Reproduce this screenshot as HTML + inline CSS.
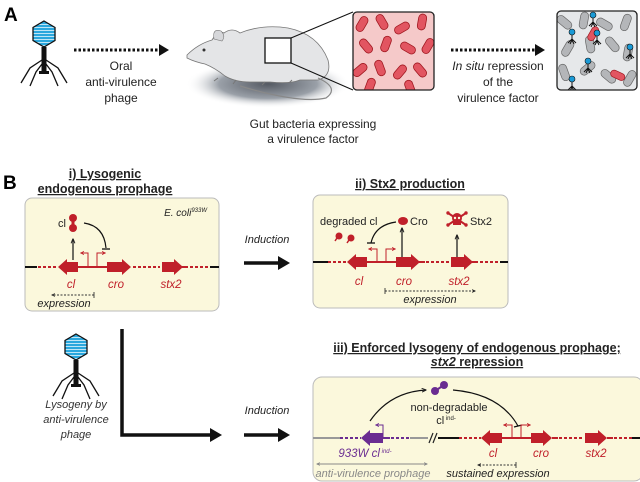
<!DOCTYPE html>
<html><head><meta charset="utf-8"><style>
html,body{margin:0;padding:0;background:#fff;}
svg{display:block;}
text{font-family:"Liberation Sans",sans-serif;}
</style></head><body>
<svg width="640" height="482" viewBox="0 0 640 482" xmlns="http://www.w3.org/2000/svg">
<defs>
<marker id="ah" viewBox="0 0 10 10" refX="9" refY="5" markerWidth="5" markerHeight="5" orient="auto"><path d="M0,0 L10,5 L0,10 z" fill="#111"/></marker>
<marker id="sm" viewBox="0 0 10 10" refX="9" refY="5" markerWidth="4" markerHeight="4" orient="auto"><path d="M0,1 L10,5 L0,9" fill="none" stroke="#222" stroke-width="2"/></marker>
<marker id="smg" viewBox="0 0 10 10" refX="9" refY="5" markerWidth="4" markerHeight="4" orient="auto-start-reverse"><path d="M0,1 L10,5 L0,9" fill="none" stroke="#888" stroke-width="2"/></marker>
<marker id="rs" viewBox="0 0 10 10" refX="8" refY="5" markerWidth="4" markerHeight="4" orient="auto"><path d="M0,1 L9,5 L0,9" fill="none" stroke="#c0202a" stroke-width="2"/></marker>
<marker id="ps" viewBox="0 0 10 10" refX="8" refY="5" markerWidth="4" markerHeight="4" orient="auto"><path d="M0,1 L9,5 L0,9" fill="none" stroke="#6a2c91" stroke-width="2"/></marker>
<radialGradient id="sh" cx="0.5" cy="0.5" r="0.5"><stop offset="0" stop-color="#555a63"/><stop offset="0.6" stop-color="#9aa0a8"/><stop offset="1" stop-color="#fff" stop-opacity="0"/></radialGradient>
<pattern id="stripes" width="4" height="3" patternUnits="userSpaceOnUse"><rect width="4" height="3" fill="#2aa7dd"/><rect y="2" width="4" height="1" fill="#bfe6f6"/></pattern>
<g id="phage">
<polygon points="0,-13 11,-6.5 11,6.5 0,13 -11,6.5 -11,-6.5" fill="url(#stripes)" stroke="#111" stroke-width="1.3"/>
<rect x="-2.5" y="13" width="5" height="25" fill="#111"/>
<rect x="-5" y="37" width="10" height="3" fill="#111"/>
<path d="M-2,26 L-14,34 L-23,49 M2,26 L14,34 L23,49 M-2,30 L-8,38 L-14,52 M2,30 L8,38 L14,52" stroke="#111" stroke-width="1.3" fill="none"/>
</g>
<g id="mini"><circle cx="0" cy="0" r="3" fill="#1a9ad6" stroke="#111" stroke-width="0.6"/><path d="M0,3 V9 M0,7 L-4,11 M0,7 L4,11 M0,8 L-2,12 M0,8 L2,12" stroke="#111" stroke-width="1"/></g>
<clipPath id="c1"><rect x="353" y="12" width="81" height="78" rx="4"/></clipPath>
<clipPath id="c2"><rect x="557" y="11" width="80" height="79" rx="4"/></clipPath>
</defs>

<!-- Panel A -->
<text x="4" y="21" font-size="19" font-weight="bold">A</text>
<use href="#phage" x="44" y="34"/>
<line x1="74" y1="50" x2="160" y2="50" stroke="#111" stroke-width="3" stroke-dasharray="2.5,2"/>
<polygon points="159,44 169,50 159,56" fill="#111"/>
<g font-size="12" text-anchor="middle" fill="#222">
<text x="121" y="70">Oral</text><text x="121" y="86">anti-virulence</text><text x="121" y="102">phage</text>
<text x="313" y="128">Gut bacteria expressing</text><text x="313" y="143">a virulence factor</text>
<text x="498" y="70"><tspan font-style="italic">In situ</tspan> repression</text><text x="498" y="86">of the</text><text x="498" y="102">virulence factor</text>
</g>
<!-- mouse -->
<ellipse cx="268" cy="84" rx="82" ry="24" fill="url(#sh)"/>
<path d="M187,55 Q198,44 212,40 Q218,30 224,33 Q232,27 240,33 Q262,24 288,28 Q318,34 328,60 Q332,76 318,80 L300,80 Q290,84 270,82 L250,82 Q235,82 225,76 Q215,68 205,64 Q195,62 187,58 Z" fill="#e4e5e7" stroke="#777" stroke-width="0.8"/>
<path d="M214,39 Q212,28 221,31 Q226,36 222,41 Z" fill="#d6d7da" stroke="#777" stroke-width="0.6"/>
<circle cx="204" cy="50" r="1.5" fill="#333"/>
<path d="M218,78 l-4,3 M236,80 l-3,4 M265,82 l-3,3 M292,80 l-3,3" stroke="#777" stroke-width="1"/>
<path d="M318,78 Q340,88 326,98 Q300,104 240,86" fill="none" stroke="#888" stroke-width="1.2"/>
<rect x="265" y="38" width="26" height="25" fill="#fff" stroke="#111" stroke-width="1.3"/>
<line x1="291" y1="38" x2="353" y2="12" stroke="#111" stroke-width="1"/>
<line x1="291" y1="63" x2="353" y2="90" stroke="#111" stroke-width="1"/>
<!-- red box -->
<g clip-path="url(#c1)">
<rect x="353" y="12" width="81" height="78" fill="#f5c9c9"/>
<g fill="#e25561" stroke="#a01820" stroke-width="0.8">
<rect x="358" y="16" width="8" height="16" rx="4" transform="rotate(30 362 24)"/>
<rect x="378" y="14" width="8" height="16" rx="4" transform="rotate(-30 382 22)"/>
<rect x="398" y="20" width="8" height="16" rx="4" transform="rotate(60 402 28)"/>
<rect x="418" y="14" width="8" height="16" rx="4" transform="rotate(10 422 22)"/>
<rect x="362" y="38" width="8" height="16" rx="4" transform="rotate(-40 366 46)"/>
<rect x="382" y="36" width="8" height="16" rx="4" transform="rotate(20 386 44)"/>
<rect x="404" y="40" width="8" height="16" rx="4" transform="rotate(-60 408 48)"/>
<rect x="424" y="38" width="8" height="16" rx="4" transform="rotate(30 428 46)"/>
<rect x="356" y="62" width="8" height="16" rx="4" transform="rotate(50 360 70)"/>
<rect x="376" y="60" width="8" height="16" rx="4" transform="rotate(-20 380 68)"/>
<rect x="396" y="64" width="8" height="16" rx="4" transform="rotate(40 400 72)"/>
<rect x="416" y="62" width="8" height="16" rx="4" transform="rotate(-40 420 70)"/>
<rect x="366" y="78" width="8" height="16" rx="4" transform="rotate(20 370 86)"/>
<rect x="406" y="80" width="8" height="16" rx="4" transform="rotate(-20 410 88)"/>
</g></g>
<rect x="353" y="12" width="81" height="78" rx="4" fill="none" stroke="#222" stroke-width="1.3"/>
<line x1="451" y1="50" x2="536" y2="50" stroke="#111" stroke-width="3" stroke-dasharray="2.5,2"/>
<polygon points="535,44 545,50 535,56" fill="#111"/>
<!-- right box -->
<g clip-path="url(#c2)">
<rect x="557" y="11" width="80" height="79" fill="#e6e8ea"/>
<g fill="#b4b6b9" stroke="#666" stroke-width="0.7">
<rect x="560" y="14" width="8" height="17" rx="4" transform="rotate(-50 564 22)"/>
<rect x="580" y="12" width="8" height="17" rx="4" transform="rotate(10 584 20)"/>
<rect x="600" y="16" width="8" height="17" rx="4" transform="rotate(-60 604 24)"/>
<rect x="622" y="14" width="8" height="17" rx="4" transform="rotate(20 626 22)"/>
<rect x="564" y="40" width="8" height="17" rx="4" transform="rotate(30 568 48)"/>
<rect x="608" y="36" width="8" height="17" rx="4" transform="rotate(-40 612 44)"/>
<rect x="624" y="44" width="8" height="17" rx="4" transform="rotate(10 628 52)"/>
<rect x="560" y="64" width="8" height="17" rx="4" transform="rotate(-20 564 72)"/>
<rect x="584" y="60" width="8" height="17" rx="4" transform="rotate(50 588 68)"/>
<rect x="604" y="68" width="8" height="17" rx="4" transform="rotate(-50 608 76)"/>
<rect x="626" y="70" width="8" height="17" rx="4" transform="rotate(30 630 78)"/>
<rect x="586" y="36" width="8" height="17" rx="4" transform="rotate(-10 590 44)"/>
</g>
<rect x="590" y="26" width="7" height="15" rx="3.5" transform="rotate(30 593 33)" fill="#e25561" stroke="#a01820" stroke-width="0.7"/>
<rect x="615" y="68" width="7" height="15" rx="3.5" transform="rotate(-65 618 76)" fill="#e25561" stroke="#a01820" stroke-width="0.7"/>
<use href="#mini" x="593" y="15"/><use href="#mini" x="572" y="32"/><use href="#mini" x="597" y="33"/>
<use href="#mini" x="630" y="47"/><use href="#mini" x="588" y="61"/><use href="#mini" x="572" y="79"/>
</g>
<rect x="557" y="11" width="80" height="79" rx="4" fill="none" stroke="#222" stroke-width="1.3"/>

<!-- Panel B -->
<text x="3" y="189" font-size="19" font-weight="bold">B</text>
<g font-size="12.5" font-weight="bold" text-anchor="middle" fill="#222" text-decoration="underline">
<text x="105" y="178">i) Lysogenic</text><text x="105" y="193">endogenous prophage</text>
<text x="410" y="188">ii) Stx2 production</text>
<text x="477" y="352">iii) Enforced lysogeny of endogenous prophage;</text>
<text x="477" y="366"><tspan font-style="italic">stx2</tspan> repression</text>
</g>
<rect x="25" y="198" width="194" height="113" rx="7" fill="#fbf8dc" stroke="#bbb" stroke-width="1"/>
<rect x="313" y="195" width="195" height="113" rx="7" fill="#fbf8dc" stroke="#bbb" stroke-width="1"/>
<rect x="313" y="377" width="330" height="104" rx="9" fill="#fbf8dc" stroke="#bbb" stroke-width="1"/>

<!-- box i -->
<text x="207" y="216" font-size="10" font-style="italic" text-anchor="end" fill="#222">E. coli<tspan font-size="6" dy="-4">933W</tspan></text>
<circle cx="73" cy="218" r="4" fill="#c0202a"/><circle cx="73" cy="228" r="4" fill="#c0202a"/><rect x="71.5" y="220" width="3" height="6" fill="#c0202a"/>
<text x="58" y="227" font-size="11" fill="#222">cl</text>
<line x1="73" y1="260" x2="73" y2="239" stroke="#111" stroke-width="1.2" marker-end="url(#sm)"/>
<path d="M84,223 Q104,226 106,248" fill="none" stroke="#111" stroke-width="1.2"/><line x1="102" y1="249" x2="110" y2="249" stroke="#111" stroke-width="1.3"/>
<line x1="25" y1="267" x2="37" y2="267" stroke="#111" stroke-width="2"/>
<line x1="38" y1="267" x2="57" y2="267" stroke="#c0202a" stroke-width="2" stroke-dasharray="3,2"/>
<line x1="78" y1="267" x2="107" y2="267" stroke="#c0202a" stroke-width="2"/>
<line x1="133" y1="267" x2="160" y2="267" stroke="#c0202a" stroke-width="2" stroke-dasharray="3,2"/>
<line x1="182" y1="267" x2="188" y2="267" stroke="#c0202a" stroke-width="2"/>
<line x1="190" y1="267" x2="210" y2="267" stroke="#c0202a" stroke-width="2" stroke-dasharray="3,2"/>
<line x1="210" y1="267" x2="219" y2="267" stroke="#111" stroke-width="2"/>
<polygon points="58,267 67,259 67,262 78,262 78,272 67,272 67,275" fill="#c0202a"/>
<polygon points="131,267 122,259 122,262 107,262 107,272 122,272 122,275" fill="#c0202a"/>
<polygon points="183,267 174,259 174,262 162,262 162,272 174,272 174,275" fill="#c0202a"/>
<path d="M88,266 V253 H81" fill="none" stroke="#c0202a" stroke-width="1" marker-end="url(#rs)"/>
<path d="M97,266 V253 H105" fill="none" stroke="#c0202a" stroke-width="1" marker-end="url(#rs)"/>
<g font-size="11.5" font-style="italic" fill="#c0202a" text-anchor="middle"><text x="71" y="288">cl</text><text x="116" y="288">cro</text><text x="171" y="288">stx2</text></g>
<line x1="94" y1="295" x2="52" y2="295" stroke="#333" stroke-width="0.9" stroke-dasharray="2,1.5" marker-end="url(#sm)"/>
<line x1="94" y1="292" x2="94" y2="298" stroke="#333" stroke-width="0.9"/>
<text x="64" y="307" font-size="11" font-style="italic" text-anchor="middle" fill="#222">expression</text>

<text x="267" y="243" font-size="11" font-style="italic" text-anchor="middle" fill="#222">Induction</text>
<line x1="244" y1="263" x2="280" y2="263" stroke="#111" stroke-width="3.5"/><polygon points="278,256 290,263 278,270" fill="#111"/>

<!-- box ii -->
<text x="320" y="225" font-size="11" fill="#222">degraded cl</text>
<circle cx="339" cy="236" r="3.5" fill="#c0202a"/><path d="M337,238 l-2,3" stroke="#c0202a" stroke-width="1.5"/>
<circle cx="351" cy="238" r="3.5" fill="#c0202a"/><path d="M349,240 l-2,3" stroke="#c0202a" stroke-width="1.5"/>
<ellipse cx="403" cy="221" rx="5" ry="4" fill="#c0202a"/>
<text x="410" y="225" font-size="11" fill="#222">Cro</text>
<line x1="402" y1="259" x2="402" y2="228" stroke="#111" stroke-width="1.2" marker-end="url(#sm)"/>
<path d="M396,222 Q375,225 371,243" fill="none" stroke="#111" stroke-width="1.2"/><line x1="367" y1="243" x2="375" y2="243" stroke="#111" stroke-width="1.3"/>
<g fill="#c0202a"><circle cx="457" cy="218" r="5"/><rect x="453" y="221" width="8" height="4"/><path d="M448,213 l18,12 M466,213 l-18,12" stroke="#c0202a" stroke-width="2"/><circle cx="448" cy="213" r="1.7"/><circle cx="466" cy="213" r="1.7"/><circle cx="448" cy="225" r="1.7"/><circle cx="466" cy="225" r="1.7"/></g>
<circle cx="455" cy="218" r="1.2" fill="#fbf8dc"/><circle cx="459" cy="218" r="1.2" fill="#fbf8dc"/>
<text x="470" y="225" font-size="11" fill="#222">Stx2</text>
<line x1="457" y1="259" x2="457" y2="235" stroke="#111" stroke-width="1.2" marker-end="url(#sm)"/>
<line x1="313" y1="262" x2="328" y2="262" stroke="#111" stroke-width="2"/>
<line x1="328" y1="262" x2="347" y2="262" stroke="#c0202a" stroke-width="2" stroke-dasharray="3,2"/>
<line x1="367" y1="262" x2="396" y2="262" stroke="#c0202a" stroke-width="2"/>
<line x1="419" y1="262" x2="425" y2="262" stroke="#c0202a" stroke-width="2"/>
<line x1="426" y1="262" x2="450" y2="262" stroke="#c0202a" stroke-width="2" stroke-dasharray="3,2"/>
<line x1="472" y1="262" x2="478" y2="262" stroke="#c0202a" stroke-width="2"/>
<line x1="480" y1="262" x2="500" y2="262" stroke="#c0202a" stroke-width="2" stroke-dasharray="3,2"/>
<line x1="500" y1="262" x2="508" y2="262" stroke="#111" stroke-width="2"/>
<polygon points="347,262 356,254 356,257 367,257 367,267 356,267 356,270" fill="#c0202a"/>
<polygon points="420,262 411,254 411,257 396,257 396,267 411,267 411,270" fill="#c0202a"/>
<polygon points="473,262 464,254 464,257 451,257 451,267 464,267 464,270" fill="#c0202a"/>
<path d="M377,261 V249 H369" fill="none" stroke="#c0202a" stroke-width="1" marker-end="url(#rs)"/>
<path d="M386,261 V249 H395" fill="none" stroke="#c0202a" stroke-width="1" marker-end="url(#rs)"/>
<g font-size="11.5" font-style="italic" fill="#c0202a" text-anchor="middle"><text x="359" y="285">cl</text><text x="404" y="285">cro</text><text x="459" y="285">stx2</text></g>
<line x1="385" y1="291" x2="475" y2="291" stroke="#333" stroke-width="0.9" stroke-dasharray="2,1.5" marker-end="url(#sm)"/>
<line x1="385" y1="288" x2="385" y2="294" stroke="#333" stroke-width="0.9"/>
<text x="430" y="303" font-size="11" font-style="italic" text-anchor="middle" fill="#222">expression</text>

<!-- lower left -->
<use href="#phage" x="76" y="347"/>
<g font-size="11" font-style="italic" text-anchor="middle" fill="#333"><text x="76" y="408">Lysogeny by</text><text x="76" y="423">anti-virulence</text><text x="76" y="438">phage</text></g>
<path d="M122,329 V435 H212" fill="none" stroke="#111" stroke-width="3.5"/><polygon points="210,428 222,435 210,442" fill="#111"/>
<text x="267" y="414" font-size="11" font-style="italic" text-anchor="middle" fill="#222">Induction</text>
<line x1="244" y1="435" x2="280" y2="435" stroke="#111" stroke-width="3.5"/><polygon points="278,428 290,435 278,442" fill="#111"/>

<!-- box iii -->
<path d="M370,421 Q390,392 426,390" fill="none" stroke="#111" stroke-width="1.2" marker-end="url(#sm)"/>
<path d="M453,390 Q500,394 518,426" fill="none" stroke="#111" stroke-width="1.2"/><line x1="514" y1="427" x2="522" y2="425" stroke="#111" stroke-width="1.3"/>
<circle cx="435" cy="391" r="4" fill="#6a2c91"/><circle cx="444" cy="385" r="4" fill="#6a2c91"/><line x1="435" y1="391" x2="444" y2="385" stroke="#6a2c91" stroke-width="2"/>
<text x="449" y="411" font-size="11" text-anchor="middle" fill="#222">non-degradable</text>
<text x="446" y="424" font-size="11" text-anchor="middle" fill="#222">cl<tspan font-size="6" dy="-4"> ind-</tspan></text>
<line x1="313" y1="438" x2="340" y2="438" stroke="#999" stroke-width="2"/>
<line x1="340" y1="438" x2="361" y2="438" stroke="#6a2c91" stroke-width="2" stroke-dasharray="3,2"/>
<line x1="383" y1="438" x2="390" y2="438" stroke="#6a2c91" stroke-width="2"/>
<line x1="391" y1="438" x2="410" y2="438" stroke="#6a2c91" stroke-width="2" stroke-dasharray="3,2"/>
<line x1="410" y1="438" x2="428" y2="438" stroke="#999" stroke-width="2"/>
<path d="M429,443 L433,433 M433,443 L437,433" stroke="#222" stroke-width="1.2"/>
<line x1="438" y1="438" x2="459" y2="438" stroke="#111" stroke-width="2"/>
<line x1="459" y1="438" x2="481" y2="438" stroke="#c0202a" stroke-width="2" stroke-dasharray="3,2"/>
<line x1="502" y1="438" x2="531" y2="438" stroke="#c0202a" stroke-width="2"/>
<line x1="552" y1="438" x2="558" y2="438" stroke="#c0202a" stroke-width="2"/>
<line x1="559" y1="438" x2="583" y2="438" stroke="#c0202a" stroke-width="2" stroke-dasharray="3,2"/>
<line x1="607" y1="438" x2="613" y2="438" stroke="#c0202a" stroke-width="2"/>
<line x1="614" y1="438" x2="632" y2="438" stroke="#c0202a" stroke-width="2" stroke-dasharray="3,2"/>
<line x1="632" y1="438" x2="640" y2="438" stroke="#111" stroke-width="2"/>
<polygon points="361,438 370,430 370,433 383,433 383,443 370,443 370,446" fill="#6a2c91"/>
<polygon points="481,438 490,430 490,433 502,433 502,443 490,443 490,446" fill="#c0202a"/>
<polygon points="552,438 543,430 543,433 531,433 531,443 543,443 543,446" fill="#c0202a"/>
<polygon points="607,438 598,430 598,433 585,433 585,443 598,443 598,446" fill="#c0202a"/>
<path d="M383,437 V425 H376" fill="none" stroke="#6a2c91" stroke-width="1" marker-end="url(#ps)"/>
<path d="M512,437 V425 H504" fill="none" stroke="#c0202a" stroke-width="1" marker-end="url(#rs)"/>
<path d="M521,437 V425 H530" fill="none" stroke="#c0202a" stroke-width="1" marker-end="url(#rs)"/>
<g font-size="11.5" font-style="italic" text-anchor="middle"><text x="365" y="457" fill="#6a2c91">933W cl<tspan font-size="6" dy="-4"> ind-</tspan></text>
<text x="493" y="457" fill="#c0202a">cl</text><text x="541" y="457" fill="#c0202a">cro</text><text x="596" y="457" fill="#c0202a">stx2</text></g>
<line x1="317" y1="464" x2="427" y2="464" stroke="#888" stroke-width="0.9" marker-start="url(#smg)" marker-end="url(#smg)"/>
<text x="373" y="477" font-size="11" font-style="italic" text-anchor="middle" fill="#888">anti-virulence prophage</text>
<line x1="516" y1="465" x2="478" y2="465" stroke="#333" stroke-width="0.9" stroke-dasharray="2,1.5" marker-end="url(#sm)"/>
<line x1="516" y1="462" x2="516" y2="468" stroke="#333" stroke-width="0.9"/>
<text x="498" y="477" font-size="11" font-style="italic" text-anchor="middle" fill="#222">sustained expression</text>
</svg>
</body></html>
